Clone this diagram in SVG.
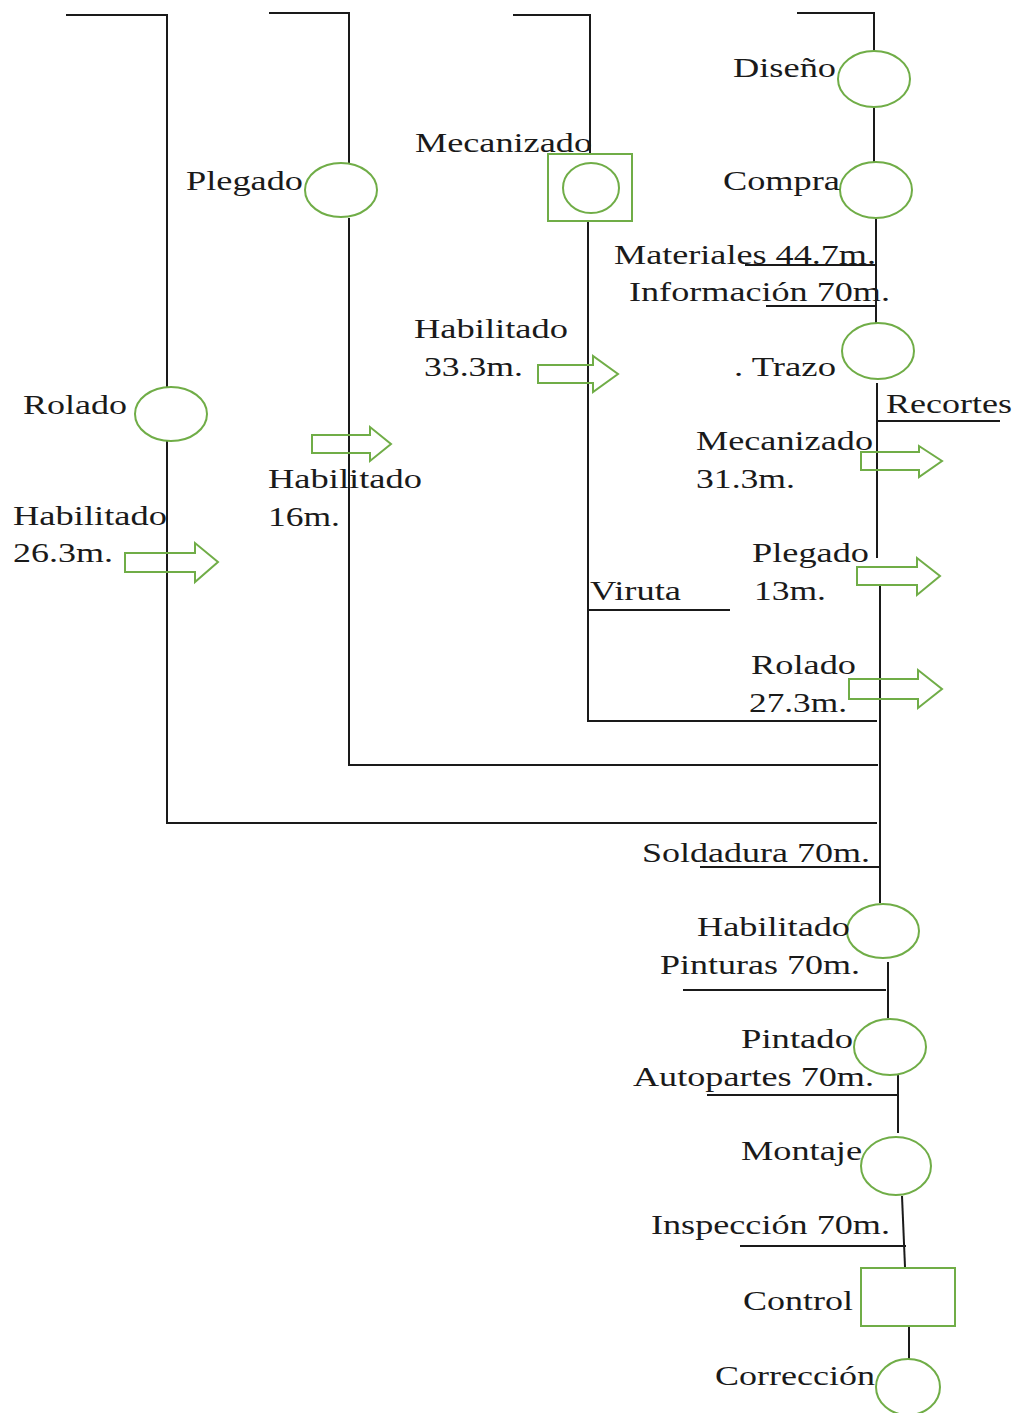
<svg xmlns="http://www.w3.org/2000/svg" width="1019" height="1413" viewBox="0 0 1019 1413">
  <defs>
    <style>
      .ln { stroke: #1a1a1a; stroke-width: 2; fill: none; }
      .op { stroke: #70ad47; stroke-width: 2; fill: #ffffff; }
      .ar { stroke: #70ad47; stroke-width: 2; fill: none; stroke-linejoin: miter; }
      .t { font-family: "Liberation Serif", "Times New Roman", serif; font-size: 27px; fill: #1a1a1a; }
    </style>
  </defs>
  <rect width="1019" height="1413" fill="#ffffff"/>

  <!-- flow lines -->
  <g id="connectors">
    <!-- branch 1 (Rolado) -->
    <polyline class="ln" points="66,15 167,15 167,388"/>
    <polyline class="ln" points="167,441 167,823 877,823"/>
    <!-- branch 2 (Plegado) -->
    <polyline class="ln" points="269,13 349,13 349,163"/>
    <polyline class="ln" points="349,218 349,765 878,765"/>
    <!-- branch 3 (Mecanizado) -->
    <polyline class="ln" points="513,15 590,15 590,154"/>
    <polyline class="ln" points="588,222 588,721 877,721"/>
    <line class="ln" x1="588" y1="610" x2="730" y2="610"/>
    <!-- main column -->
    <polyline class="ln" points="797,13 874,13 874,51"/>
    <line class="ln" x1="874" y1="107" x2="874" y2="163"/>
    <line class="ln" x1="876" y1="218" x2="876" y2="324"/>
    <line class="ln" x1="745" y1="265" x2="876" y2="265"/>
    <line class="ln" x1="766" y1="306" x2="876" y2="306"/>
    <line class="ln" x1="877" y1="383" x2="877" y2="558"/>
    <line class="ln" x1="878" y1="421" x2="1000" y2="421"/>
    <line class="ln" x1="880" y1="585" x2="880" y2="903"/>
    <line class="ln" x1="700" y1="867" x2="880" y2="867"/>
    <line class="ln" x1="888" y1="962" x2="888" y2="1018"/>
    <line class="ln" x1="683" y1="990" x2="886" y2="990"/>
    <line class="ln" x1="898" y1="1075" x2="898" y2="1133"/>
    <line class="ln" x1="707" y1="1095" x2="898" y2="1095"/>
    <line class="ln" x1="902" y1="1196" x2="905" y2="1267"/>
    <line class="ln" x1="740" y1="1246" x2="906" y2="1246"/>
    <line class="ln" x1="909" y1="1327" x2="909" y2="1359"/>
  </g>

  <!-- transport arrows -->
  <g id="arrows">
    <polygon class="ar" points="125,553 195,553 195,543 218,562 195,582 195,572 125,572"/>
    <polygon class="ar" points="312,435 370,435 370,427 391,444 370,461 370,453 312,453"/>
    <polygon class="ar" points="538,365 593,365 593,356 618,374 593,392 593,383 538,383"/>
    <polygon class="ar" points="861,452 919,452 919,446 942,461 919,477 919,470 861,470"/>
    <polygon class="ar" points="857,567 917,567 917,558 940,576 917,595 917,585 857,585"/>
    <polygon class="ar" points="849,679 918,679 918,670 942,689 918,708 918,699 849,699"/>
  </g>

  <!-- operations -->
  <g id="rolado">
    <ellipse class="op" cx="171" cy="414" rx="36" ry="27"/>
    <text class="t" x="23" y="414" textLength="104" lengthAdjust="spacingAndGlyphs">Rolado</text>
  </g>
  <g id="plegado">
    <ellipse class="op" cx="341" cy="190" rx="36" ry="27"/>
    <text class="t" x="186" y="190" textLength="117" lengthAdjust="spacingAndGlyphs">Plegado</text>
  </g>
  <g id="mecanizado">
    <rect class="op" x="548" y="154" width="84" height="67"/>
    <ellipse class="op" cx="591" cy="188" rx="28" ry="25"/>
    <text class="t" x="415" y="152" textLength="177" lengthAdjust="spacingAndGlyphs">Mecanizado</text>
  </g>
  <g id="diseno">
    <ellipse class="op" cx="874" cy="79" rx="36" ry="28"/>
    <text class="t" x="733" y="77" textLength="103" lengthAdjust="spacingAndGlyphs">Diseño</text>
  </g>
  <g id="compra">
    <ellipse class="op" cx="876" cy="190" rx="36" ry="28"/>
    <text class="t" x="723" y="190" textLength="117" lengthAdjust="spacingAndGlyphs">Compra</text>
  </g>
  <g id="trazo">
    <ellipse class="op" cx="878" cy="351" rx="36" ry="28"/>
    <text class="t" x="734" y="376" textLength="102" lengthAdjust="spacingAndGlyphs">. Trazo</text>
  </g>
  <g id="habilitado">
    <ellipse class="op" cx="883" cy="931" rx="36" ry="27"/>
    <text class="t" x="697" y="936" textLength="153" lengthAdjust="spacingAndGlyphs">Habilitado</text>
  </g>
  <g id="pintado">
    <ellipse class="op" cx="890" cy="1047" rx="36" ry="28"/>
    <text class="t" x="741" y="1048" textLength="112" lengthAdjust="spacingAndGlyphs">Pintado</text>
  </g>
  <g id="montaje">
    <ellipse class="op" cx="896" cy="1166" rx="35" ry="29"/>
    <text class="t" x="741" y="1160" textLength="121" lengthAdjust="spacingAndGlyphs">Montaje</text>
  </g>
  <g id="control">
    <rect class="op" x="861" y="1268" width="94" height="58"/>
    <text class="t" x="743" y="1310" textLength="110" lengthAdjust="spacingAndGlyphs">Control</text>
  </g>
  <g id="correccion">
    <ellipse class="op" cx="908" cy="1387" rx="32" ry="28"/>
    <text class="t" x="715" y="1385" textLength="160" lengthAdjust="spacingAndGlyphs">Corrección</text>
  </g>

  <!-- flow labels -->
  <g id="labels">
    <text class="t" x="13" y="525" textLength="154" lengthAdjust="spacingAndGlyphs">Habilitado</text>
    <text class="t" x="13" y="562" textLength="100" lengthAdjust="spacingAndGlyphs">26.3m.</text>
    <text class="t" x="268" y="488" textLength="154" lengthAdjust="spacingAndGlyphs">Habilitado</text>
    <text class="t" x="268" y="526" textLength="72" lengthAdjust="spacingAndGlyphs">16m.</text>
    <text class="t" x="414" y="338" textLength="154" lengthAdjust="spacingAndGlyphs">Habilitado</text>
    <text class="t" x="424" y="376" textLength="99" lengthAdjust="spacingAndGlyphs">33.3m.</text>
    <text class="t" x="614" y="264" textLength="262" lengthAdjust="spacingAndGlyphs">Materiales 44.7m.</text>
    <text class="t" x="629" y="301" textLength="261" lengthAdjust="spacingAndGlyphs">Información 70m.</text>
    <text class="t" x="886" y="413" textLength="126" lengthAdjust="spacingAndGlyphs">Recortes</text>
    <text class="t" x="696" y="450" textLength="177" lengthAdjust="spacingAndGlyphs">Mecanizado</text>
    <text class="t" x="696" y="488" textLength="99" lengthAdjust="spacingAndGlyphs">31.3m.</text>
    <text class="t" x="752" y="562" textLength="117" lengthAdjust="spacingAndGlyphs">Plegado</text>
    <text class="t" x="754" y="600" textLength="72" lengthAdjust="spacingAndGlyphs">13m.</text>
    <text class="t" x="590" y="600" textLength="91" lengthAdjust="spacingAndGlyphs">Viruta</text>
    <text class="t" x="751" y="674" textLength="105" lengthAdjust="spacingAndGlyphs">Rolado</text>
    <text class="t" x="749" y="712" textLength="98" lengthAdjust="spacingAndGlyphs">27.3m.</text>
    <text class="t" x="642" y="862" textLength="228" lengthAdjust="spacingAndGlyphs">Soldadura 70m.</text>
    <text class="t" x="660" y="974" textLength="200" lengthAdjust="spacingAndGlyphs">Pinturas 70m.</text>
    <text class="t" x="633" y="1086" textLength="241" lengthAdjust="spacingAndGlyphs">Autopartes 70m.</text>
    <text class="t" x="651" y="1234" textLength="239" lengthAdjust="spacingAndGlyphs">Inspección 70m.</text>
  </g>
</svg>
